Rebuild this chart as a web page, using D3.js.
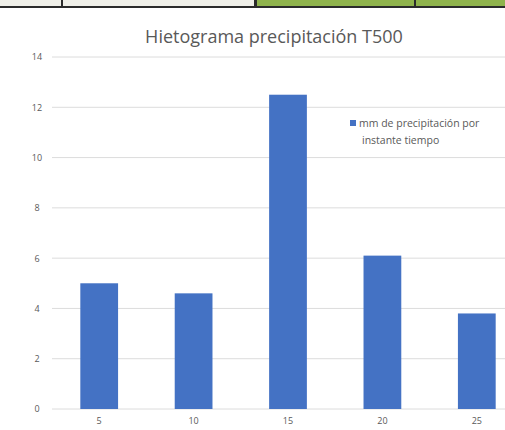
<!DOCTYPE html>
<html>
<head>
<meta charset="utf-8">
<script src="https://cdn.jsdelivr.net/npm/d3@7/dist/d3.min.js"></script>
<style>
  html, body { margin: 0; padding: 0; background: #fff; }
  svg { display: block; }
</style>
</head>
<body>
<svg id="chart" width="505" height="430"></svg>
<script>
// Hyetograph data: time instants (min) and rainfall depth per instant (mm)
const categories = ["5", "10", "15", "20", "25"];
const precipitation = [5.0, 4.6, 12.5, 6.1, 3.8];
const yTicks = [0, 2, 4, 6, 8, 10, 12, 14];
const titleText = "Hietograma precipitación T500";
const legendLines = ["mm de precipitación por", "instante tiempo"];

const svg = d3.select("#chart");
const W = 505, H = 430;
const margin = { left: 52, right: -19, top: 57, bottom: 21 };
const textColor = "#595959";
const barColor = "#4472c4";

// Spreadsheet row peeking in above the chart
const strip = svg.append("g");
strip.append("rect").attr("x", 0).attr("y", 0).attr("width", 256).attr("height", 7).attr("fill", "#efefe8");
strip.append("rect").attr("x", 256).attr("y", 0).attr("width", 249).attr("height", 7).attr("fill", "#8fb34c");
strip.append("rect").attr("x", 0).attr("y", 6).attr("width", 505).attr("height", 2).attr("fill", "#2b2b2b");
[62, 255, 415].forEach(x =>
  strip.append("rect").attr("x", x - 1).attr("y", 0).attr("width", x === 255 ? 3 : 2).attr("height", 8).attr("fill", "#2b2b2b"));

const x = d3.scaleBand()
  .domain(categories)
  .range([margin.left, W - margin.right])
  .paddingInner(0.6)
  .paddingOuter(0.3);

const y = d3.scaleLinear()
  .domain([0, 14])
  .range([H - margin.bottom, margin.top]);

// Horizontal gridlines
svg.append("g")
  .selectAll("line")
  .data(yTicks)
  .join("line")
  .attr("x1", margin.left)
  .attr("x2", W)
  .attr("y1", d => y(d))
  .attr("y2", d => y(d))
  .attr("stroke", "#dcdcdc")
  .attr("stroke-width", 1);

// Y axis labels
const yAxis = d3.axisLeft(y).tickValues(yTicks).tickSize(0).tickPadding(0).tickFormat(d3.format("d"));
svg.append("g")
  .attr("transform", `translate(${margin.left - 15},0)`)
  .call(yAxis)
  .call(g => g.select(".domain").remove())
  .call(g => g.selectAll("text")
    .attr("fill", textColor)
    .attr("text-anchor", "middle")
    .style("font-family", "'Open Sans', sans-serif")
    .style("font-size", "9px"));

// Bars
svg.append("g")
  .selectAll("rect")
  .data(precipitation)
  .join("rect")
  .attr("x", (d, i) => x(categories[i]))
  .attr("y", d => y(d))
  .attr("width", x.bandwidth())
  .attr("height", d => y(0) - y(d))
  .attr("fill", barColor);

// X axis labels
const xAxis = d3.axisBottom(x).tickSize(0).tickPadding(0);
svg.append("g")
  .attr("transform", `translate(0,${H - margin.bottom + 9})`)
  .call(xAxis)
  .call(g => g.select(".domain").remove())
  .call(g => g.selectAll("text")
    .attr("fill", textColor)
    .style("font-family", "'Open Sans', sans-serif")
    .style("font-size", "9px"));

// Title
svg.append("text")
  .attr("x", 274)
  .attr("y", 43)
  .attr("text-anchor", "middle")
  .attr("fill", textColor)
  .style("font-family", "'Open Sans', sans-serif")
  .style("font-size", "18px")
  .text(titleText);

// Legend
const legend = svg.append("g").attr("transform", "translate(353,123)");
legend.append("rect")
  .attr("x", -3).attr("y", -3)
  .attr("width", 6).attr("height", 6)
  .attr("fill", barColor);
legend.selectAll("text")
  .data(legendLines)
  .join("text")
  .attr("x", (d, i) => i === 0 ? 6 : 9)
  .attr("y", (d, i) => 4 + i * 17)
  .attr("fill", textColor)
  .style("font-family", "'Open Sans', sans-serif")
  .style("font-size", "10.5px")
  .text(d => d);
</script>
</body>
</html>
